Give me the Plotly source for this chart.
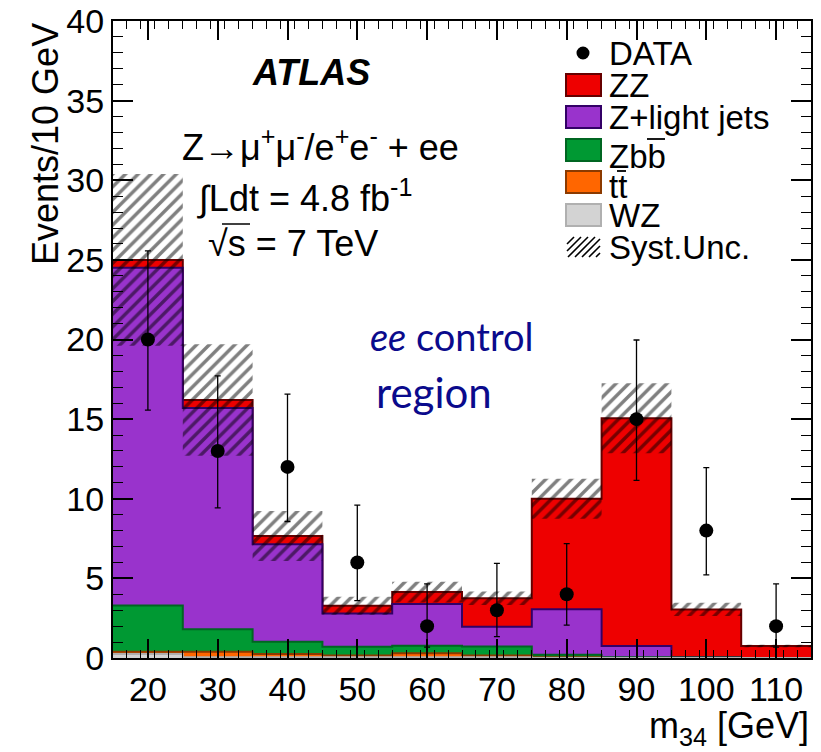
import numpy as np
import plotly.graph_objects as go

# m34 binning (10 GeV bins)
bin_edges = [15, 25, 35, 45, 55, 65, 75, 85, 95, 105, 115]
bin_centers = [20, 30, 40, 50, 60, 70, 80, 90, 100, 110]

# Expected backgrounds per bin (events / 10 GeV)
wz = [0.25, 0.05, 0.05, 0.05, 0.05, 0.05, 0.00, 0.00, 0.00, 0.00]
ttbar = [0.15, 0.35, 0.20, 0.10, 0.25, 0.10, 0.05, 0.00, 0.00, 0.00]
zbb = [2.90, 1.40, 0.77, 0.55, 0.47, 0.57, 0.15, 0.05, 0.03, 0.00]
zlight = [21.20, 13.90, 6.12, 2.10, 2.62, 1.25, 2.86, 0.70, 0.02, 0.00]
zz = [0.50, 0.50, 0.52, 0.48, 0.75, 1.78, 6.94, 14.30, 3.00, 0.75]
syst = [5.40, 3.50, 1.57, 0.57, 0.65, 0.42, 1.25, 2.20, 0.42, 0.08]

# Observed events and asymmetric Poisson errors
data = [20, 13, 12, 6, 2, 3, 4, 15, 8, 2]
data_err_up = [5.56, 4.71, 4.57, 3.60, 2.66, 2.94, 3.18, 4.97, 3.96, 2.66]
data_err_down = [4.44, 3.57, 3.43, 2.40, 1.32, 1.66, 1.94, 3.84, 2.78, 1.32]

x_tickvals = [20, 30, 40, 50, 60, 70, 80, 90, 100, 110]
y_tickvals = [0, 5, 10, 15, 20, 25, 30, 35, 40]

FONT = "Liberation Sans, Arial, Helvetica, sans-serif"

components = [
    ("WZ", wz, "#d3d3d3", "#b0b0b0"),
    ("tt", ttbar, "#ff6600", "#8b3a00"),
    ("Zbb", zbb, "#009933", "#006622"),
    ("Z+light jets", zlight, "#9933cc", "#330066"),
    ("ZZ", zz, "#ee0000", "#660000"),
]

# cumulative stack heights, bottom to top
cum = np.cumsum(np.array([c[1] for c in components], dtype=float), axis=0)
total = cum[-1]


def step(vals):
    vals = list(vals)
    return vals + [vals[-1]]


fig = go.Figure()

# draw the stack back to front: largest cumulative first
for i in reversed(range(len(components))):
    name, _, fill, line = components[i]
    fig.add_trace(go.Scatter(
        x=bin_edges, y=step(cum[i]), mode="lines",
        line=dict(shape="hv", color=line, width=2),
        fill="tozeroy", fillcolor=fill, name=name, showlegend=False,
        hoverinfo="skip",
    ))

# systematic uncertainty band (hatched)
syst_arr = np.array(syst)
fig.add_trace(go.Scatter(
    x=bin_edges, y=step(total - syst_arr), mode="lines",
    line=dict(shape="hv", width=0, color="rgba(0,0,0,0)"),
    showlegend=False, hoverinfo="skip",
))
fig.add_trace(go.Scatter(
    x=bin_edges, y=step(total + syst_arr), mode="lines",
    line=dict(shape="hv", width=0, color="rgba(0,0,0,0)"),
    fill="tonexty", fillcolor="rgba(0,0,0,0)",
    fillpattern=dict(shape="/", fgcolor="black", bgcolor="rgba(0,0,0,0)",
                     size=9, solidity=0.38),
    showlegend=False, hoverinfo="skip",
))

# data points
fig.add_trace(go.Scatter(
    x=bin_centers, y=data, mode="markers",
    marker=dict(color="black", size=14),
    error_y=dict(type="data", symmetric=False, array=data_err_up,
                 arrayminus=data_err_down, color="black", thickness=1.3, width=3),
    showlegend=False,
))

# ---- geometry helpers for decorations (pixel -> data) ----
X0, X1 = 15.0, 115.0
Y0, Y1 = 0.0, 40.0
PL, PR, PT, PB = 113, 811, 21, 658
sx = (PR - PL) / (X1 - X0)
sy = (PB - PT) / (Y1 - Y0)


def px2x(p):
    return X0 + (p - PL) / sx


def px2y(p):
    return Y0 + (PB - p) / sy


def hline(xa, xb, yp, width=1.8):
    return dict(type="line", xref="x", yref="y",
                x0=px2x(xa), x1=px2x(xb), y0=px2y(yp), y1=px2y(yp),
                line=dict(color="black", width=width))


shapes = []
annotations = []

leg_rows_px = [53, 85, 117, 150, 182, 215, 247]
leg_text_px = [53, 85, 117, 156, 186, 215, 247]
leg_labels = ["DATA", "ZZ", "Z+light jets", "Zbb", "tt", "WZ", "Syst.Unc."]
box_l, box_r = 566, 601
box_h = 22

# DATA marker
shapes.append(dict(type="circle", xref="x", yref="y",
                   x0=px2x(583 - 6.5), x1=px2x(583 + 6.5),
                   y0=px2y(leg_rows_px[0] + 6.5), y1=px2y(leg_rows_px[0] - 6.5),
                   fillcolor="black", line=dict(color="black", width=0)))

legend_colors = [(c[2], c[3]) for c in reversed(components)]
for k, (fill, line) in enumerate(legend_colors):
    cy = leg_rows_px[k + 1]
    shapes.append(dict(type="rect", xref="x", yref="y",
                       x0=px2x(box_l), x1=px2x(box_r),
                       y0=px2y(cy + box_h / 2), y1=px2y(cy - box_h / 2),
                       fillcolor=fill, line=dict(color=line, width=2)))

# hatched legend swatch for the systematic band
cy = leg_rows_px[-1]
hx0, hx1 = box_l + 1, box_r - 1
hy0, hy1 = cy - 10, cy + 10
spacing = 7
for off in np.arange(hx0 - (hy1 - hy0), hx1, spacing):
    xa, ya = off, hy1
    xb, yb = off + (hy1 - hy0), hy0
    if xa < hx0:
        ya -= (hx0 - xa)
        xa = hx0
    if xb > hx1:
        yb += (xb - hx1)
        xb = hx1
    if xb - xa < 1:
        continue
    shapes.append(dict(type="line", xref="x", yref="y",
                       x0=px2x(xa), y0=px2y(ya), x1=px2x(xb), y1=px2y(yb),
                       line=dict(color="black", width=1.6)))

# antiquark bars over the second b and the second t
shapes.append(hline(647, 665, 139))
shapes.append(hline(617, 626, 171))

for lab, cyp in zip(leg_labels, leg_text_px):
    annotations.append(dict(x=px2x(607), y=px2y(cyp), xref="x", yref="y",
                            text=lab, showarrow=False, xanchor="left",
                            yanchor="middle",
                            font=dict(family=FONT, size=33, color="black")))

# experiment label and run conditions
annotations.append(dict(x=px2x(311), y=px2y(72), xref="x", yref="y",
                        text="<b><i>ATLAS</i></b>", showarrow=False,
                        xanchor="center", yanchor="middle",
                        font=dict(family=FONT, size=36, color="black")))
annotations.append(dict(x=px2x(180), y=px2y(145), xref="x", yref="y",
                        text="Z\u2192\u03bc<sup>+</sup>\u03bc<sup>-</sup>/e<sup>+</sup>e<sup>-</sup> + ee",
                        showarrow=False, xanchor="left", yanchor="middle",
                        font=dict(family=FONT, size=36, color="black")))
annotations.append(dict(x=px2x(195), y=px2y(196), xref="x", yref="y",
                        text="\u222bLdt = 4.8 fb<sup>-1</sup>",
                        showarrow=False, xanchor="left", yanchor="middle",
                        font=dict(family=FONT, size=36, color="black")))
annotations.append(dict(x=px2x(206), y=px2y(243), xref="x", yref="y",
                        text="\u221as = 7 TeV",
                        showarrow=False, xanchor="left", yanchor="middle",
                        font=dict(family=FONT, size=36, color="black")))
# vinculum of the square root
shapes.append(hline(222, 250, 224, width=1.5))

# region label
annotations.append(dict(x=px2x(452), y=px2y(336), xref="x", yref="y",
                        text="<i>ee</i> control", showarrow=False,
                        xanchor="center", yanchor="middle",
                        font=dict(family="Lato, Open Sans, sans-serif", size=38,
                                  color="#0a0a8c")))
annotations.append(dict(x=px2x(434), y=px2y(392), xref="x", yref="y",
                        text="region", showarrow=False,
                        xanchor="center", yanchor="middle",
                        font=dict(family="Lato, Open Sans, sans-serif", size=42,
                                  color="#0a0a8c")))

# axis titles
annotations.append(dict(x=(45 - PL) / (PR - PL), y=(PB - 21) / (PB - PT),
                        xref="paper", yref="paper", text="Events/10 GeV",
                        textangle=-90, showarrow=False, xanchor="center",
                        yanchor="top",
                        font=dict(family=FONT, size=36, color="black")))
annotations.append(dict(x=(811 - PL) / (PR - PL), y=(PB - 728) / (PB - PT),
                        xref="paper", yref="paper", text="m<sub>34</sub> [GeV]",
                        showarrow=False, xanchor="right", yanchor="middle",
                        font=dict(family=FONT, size=36, color="black")))

fig.update_layout(
    width=821, height=752,
    margin=dict(l=PL, r=821 - PR, t=PT, b=752 - PB),
    paper_bgcolor="white", plot_bgcolor="white",
    showlegend=False,
    shapes=shapes, annotations=annotations,
    font=dict(family=FONT, size=34, color="black"),
)

fig.update_xaxes(
    range=[X0, X1], tickvals=x_tickvals, ticktext=[str(v) for v in x_tickvals],
    ticks="inside", ticklen=19, tickwidth=1.5, tickcolor="black",
    minor=dict(dtick=2, tick0=15, ticks="inside", ticklen=8, tickwidth=1.2,
               tickcolor="black", showgrid=False),
    showline=True, linecolor="black", linewidth=2, mirror="ticks",
    showgrid=False, zeroline=False, automargin=False,
    tickfont=dict(family=FONT, size=34, color="black"),
)
fig.update_yaxes(
    range=[Y0, Y1], tickvals=y_tickvals, ticktext=[str(v) for v in y_tickvals],
    ticks="inside", ticklen=20, tickwidth=1.5, tickcolor="black",
    minor=dict(dtick=1, tick0=0, ticks="inside", ticklen=10, tickwidth=1.2,
               tickcolor="black", showgrid=False),
    showline=True, linecolor="black", linewidth=2, mirror="ticks",
    showgrid=False, zeroline=False, automargin=False,
    tickfont=dict(family=FONT, size=34, color="black"),
)

fig.write_html("out.html")
